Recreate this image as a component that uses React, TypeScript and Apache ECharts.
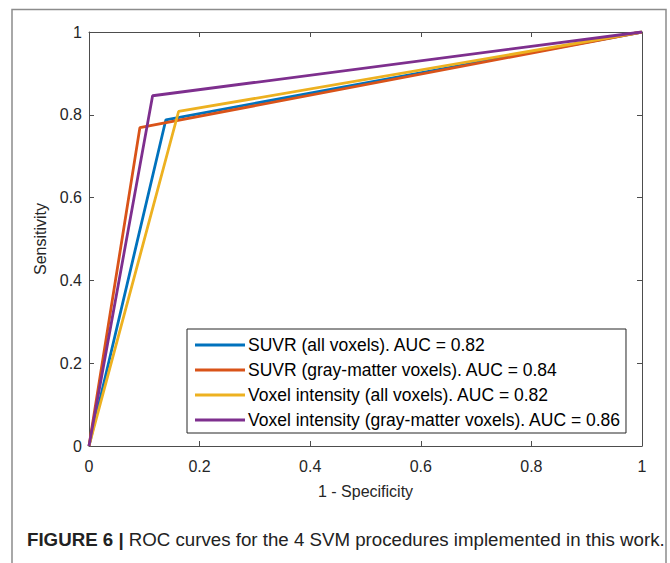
import React, { useEffect, useRef } from "react";
import * as echarts from "echarts";

const seriesNames = [
  "SUVR (all voxels). AUC = 0.82",
  "SUVR (gray-matter voxels). AUC = 0.84",
  "Voxel intensity (all voxels). AUC = 0.82",
  "Voxel intensity (gray-matter voxels). AUC = 0.86",
];
const colors = ["#0072BD", "#D95319", "#EDB120", "#7E2F8E"];
// ROC points: [1 - specificity, sensitivity]
const suvrAll = [[0, 0], [0.139, 0.788], [1, 1]];
const suvrGray = [[0, 0], [0.092, 0.769], [1, 1]];
const voxelAll = [[0, 0], [0.162, 0.808], [1, 1]];
const voxelGray = [[0, 0], [0.115, 0.846], [1, 1]];
const seriesData = [suvrAll, suvrGray, voxelAll, voxelGray];
const tickValues = [0, 0.2, 0.4, 0.6, 0.8, 1];

const FONT = "'Liberation Sans', Arial, Helvetica, sans-serif";
const AXIS = "#4d4d4d";
const TEXT = "#262626";

export default function App() {
  const ref = useRef<HTMLDivElement>(null);
  useEffect(() => {
    if (!ref.current) return;
    const chart = echarts.init(ref.current, null, { renderer: "svg" });
    const baseAxis = {
      type: "value",
      min: 0,
      max: 1,
      interval: 0.2,
      axisLine: { show: true, onZero: false, lineStyle: { color: AXIS, width: 1 } },
      axisTick: { show: true, inside: true, length: 5, lineStyle: { color: AXIS } },
      splitLine: { show: false },
    };
    const fmt = (v: number) => {
      const r = Math.round(v * 10) / 10;
      return tickValues.includes(r) ? String(r) : "";
    };
    chart.setOption({
      animation: false,
      backgroundColor: "#ffffff",
      grid: { left: 89, top: 32, width: 553, height: 414, show: false },
      xAxis: [
        {
          ...baseAxis,
          position: "bottom",
          name: "1 - Specificity",
          nameLocation: "middle",
          nameGap: 37,
          nameTextStyle: { fontFamily: FONT, fontSize: 16, color: TEXT },
          axisLabel: { fontFamily: FONT, fontSize: 16, color: TEXT, margin: 12, formatter: fmt },
        },
        { ...baseAxis, position: "top", axisLabel: { show: false } },
      ],
      yAxis: [
        {
          ...baseAxis,
          position: "left",
          name: "Sensitivity",
          nameLocation: "middle",
          nameRotate: 90,
          nameGap: 35,
          nameTextStyle: { fontFamily: FONT, fontSize: 16, color: TEXT },
          axisLabel: { fontFamily: FONT, fontSize: 16, color: TEXT, margin: 7, formatter: fmt },
        },
        { ...baseAxis, position: "right", axisLabel: { show: false } },
      ],
      legend: {
        orient: "vertical",
        left: 187,
        top: 329,
        padding: [4, 5, 1, 8],
        itemGap: 1,
        itemWidth: 50,
        itemHeight: 3,
        icon: "rect",
        itemStyle: { borderWidth: 0 },
        borderColor: "#262626",
        borderWidth: 1,
        backgroundColor: "#ffffff",
        textStyle: { fontFamily: FONT, fontSize: 17.5, color: "#000", lineHeight: 24, height: 24, padding: [0, 0, 0, -2] },
        data: seriesNames,
      },
      series: seriesData.map((d, i) => ({
        name: seriesNames[i],
        type: "line",
        data: d,
        symbol: "none",
        color: colors[i],
        lineStyle: { color: colors[i], width: 2.8 },
        xAxisIndex: 0,
        yAxisIndex: 0,
        z: 2 + i,
      })),
      graphic: [
        {
          type: "polyline",
          shape: { points: [[12, 563], [12, 9.5], [666, 9.5], [666, 563]] },
          style: { stroke: "#8c8c8c", lineWidth: 1.5, fill: "none" },
          silent: true,
        },
        {
          type: "text",
          left: 27,
          top: 530,
          style: {
            text: "{b|FIGURE 6 | }{n|ROC curves for the 4 SVM procedures implemented in this work.}",
            rich: {
              b: { fontFamily: FONT, fontSize: 18.7, fontWeight: "bold", fill: "#222" },
              n: { fontFamily: FONT, fontSize: 18.7, fill: "#222" },
            },
          },
        },
      ],
    });
    return () => chart.dispose();
  }, []);
  return <div ref={ref} style={{ width: 670, height: 563, position: "absolute", left: 0, top: 0 }} />;
}
